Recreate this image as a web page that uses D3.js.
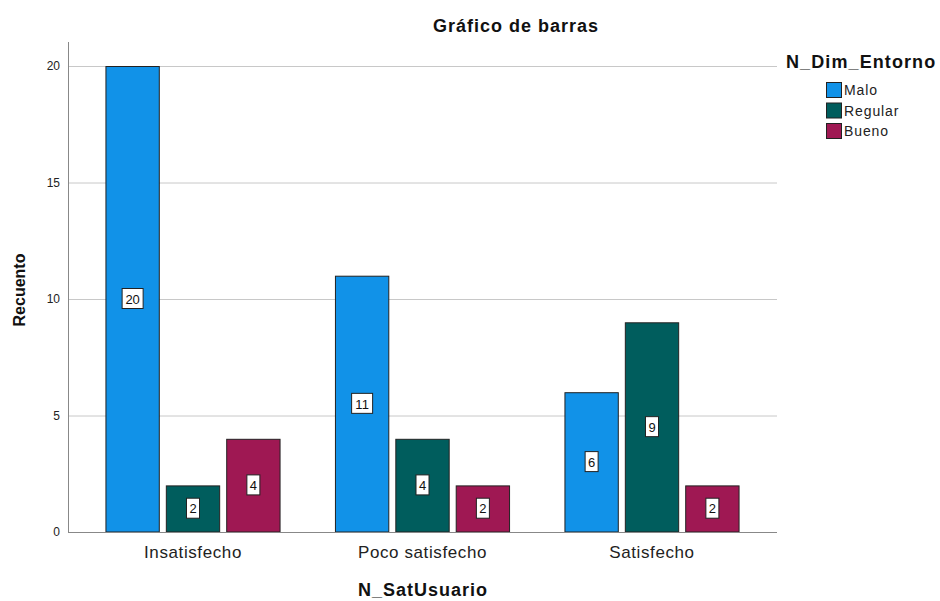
<!DOCTYPE html>
<html>
<head>
    <meta charset="utf-8">
    <title>Gráfico de barras</title>
    <script src="https://d3js.org/d3.v7.min.js"></script>
    <style>
        body { margin: 0; background: #fff; font-family: Arial, "Liberation Sans", sans-serif; }
        .grid line { stroke: #c8c8c8; }
        .bar { stroke: #222; stroke-width: 1; }
    </style>
</head>
<body>
<div id="chart"></div>
<script>
    // Data
    const categories = ['Insatisfecho', 'Poco satisfecho', 'Satisfecho'];
    const series = ['Malo', 'Regular', 'Bueno'];
    const malo = [20, 11, 6];
    const regular = [2, 4, 9];
    const bueno = [4, 2, 2];
    const yTicks = [0, 5, 10, 15, 20];
    const seriesColors = ['#1192e8', '#005d5d', '#9f1853'];

    const values = { Malo: malo, Regular: regular, Bueno: bueno };
    const rows = categories.map((c, i) => ({
        cat: c,
        items: series.map(s => ({ key: s, value: values[s][i] }))
    }));

    const width = 940, height = 601;
    const svg = d3.select('#chart').append('svg')
        .attr('width', width).attr('height', height);

    const plotLeft = 68, plotRight = 777;
    const y = d3.scaleLinear().domain([0, 20]).range([532, 66]);
    const x0 = d3.scaleBand().domain(categories).range([78.25, 766.75]).paddingInner(0.237).paddingOuter(0.1185);
    const x1 = d3.scaleBand().domain(series).range([0, x0.bandwidth()]).paddingInner(0.1);
    const color = d3.scaleOrdinal().domain(series).range(seriesColors);

    // Gridlines
    svg.append('g').attr('class', 'grid')
        .selectAll('line')
        .data(yTicks.filter(d => d > 0))
        .enter().append('line')
        .attr('x1', plotLeft).attr('x2', plotRight)
        .attr('y1', d => y(d) + 0.5).attr('y2', d => y(d) + 0.5);

    // Bars
    const groups = svg.append('g')
        .selectAll('g')
        .data(rows)
        .enter().append('g')
        .attr('transform', d => `translate(${x0(d.cat)},0)`);

    groups.selectAll('rect')
        .data(d => d.items)
        .enter().append('rect')
        .attr('class', 'bar')
        .attr('x', d => x1(d.key) + 0.5)
        .attr('y', d => y(d.value) + 0.5)
        .attr('width', x1.bandwidth() - 1)
        .attr('height', d => y(0) - y(d.value) - 0.5)
        .attr('fill', d => color(d.key));

    // Value labels
    const lab = groups.selectAll('g.lab')
        .data(d => d.items)
        .enter().append('g')
        .attr('class', 'lab')
        .attr('transform', d => `translate(${x1(d.key) + x1.bandwidth() / 2},${y(d.value / 2)})`);

    lab.append('rect')
        .attr('x', d => d.value >= 10 ? -10.5 : -6.5)
        .attr('y', -10.5)
        .attr('width', d => d.value >= 10 ? 21 : 13)
        .attr('height', 20)
        .attr('fill', '#fff')
        .attr('stroke', '#222');

    lab.append('text')
        .attr('text-anchor', 'middle')
        .attr('dy', '0.36em')
        .attr('font-size', 13)
        .attr('fill', '#111')
        .text(d => d.value);

    // Axes
    svg.append('line')
        .attr('x1', plotLeft + 0.5).attr('x2', plotLeft + 0.5)
        .attr('y1', 42).attr('y2', 532)
        .attr('stroke', '#888');
    svg.append('line')
        .attr('x1', plotLeft).attr('x2', plotRight)
        .attr('y1', 532.5).attr('y2', 532.5)
        .attr('stroke', '#888');

    svg.append('g')
        .selectAll('text')
        .data(yTicks)
        .enter().append('text')
        .attr('x', 60)
        .attr('y', d => y(d))
        .attr('dy', '0.36em')
        .attr('text-anchor', 'end')
        .attr('font-size', 12)
        .attr('fill', '#222')
        .text(d => d);

    svg.append('g')
        .selectAll('text')
        .data(categories)
        .enter().append('text')
        .attr('x', d => x0(d) + x0.bandwidth() / 2)
        .attr('y', 558)
        .attr('text-anchor', 'middle')
        .attr('font-size', 17)
        .attr('letter-spacing', 0.6)
        .attr('fill', '#222')
        .text(d => d);

    // Titles
    svg.append('text')
        .attr('x', 516).attr('y', 32)
        .attr('text-anchor', 'middle')
        .attr('font-size', 18).attr('font-weight', 'bold')
        .attr('letter-spacing', 1)
        .attr('fill', '#111')
        .text('Gráfico de barras');

    svg.append('text')
        .attr('x', 423).attr('y', 596)
        .attr('text-anchor', 'middle')
        .attr('font-size', 18).attr('font-weight', 'bold')
        .attr('letter-spacing', 1)
        .attr('fill', '#111')
        .text('N_SatUsuario');

    svg.append('text')
        .attr('transform', 'translate(25,290) rotate(-90)')
        .attr('text-anchor', 'middle')
        .attr('font-size', 16).attr('font-weight', 'bold')
        .attr('fill', '#111')
        .text('Recuento');

    // Legend
    svg.append('text')
        .attr('x', 786).attr('y', 68)
        .attr('font-size', 18).attr('font-weight', 'bold')
        .attr('letter-spacing', 1.1)
        .attr('fill', '#111')
        .text('N_Dim_Entorno');

    const leg = svg.append('g')
        .selectAll('g')
        .data(series)
        .enter().append('g')
        .attr('transform', (d, i) => `translate(826,${82 + i * 20.5})`);

    leg.append('rect')
        .attr('x', 0.5).attr('y', 0.5)
        .attr('width', 15).attr('height', 15)
        .attr('fill', d => color(d))
        .attr('stroke', '#222');

    leg.append('text')
        .attr('x', 18).attr('y', 8)
        .attr('dy', '0.36em')
        .attr('font-size', 14)
        .attr('letter-spacing', 0.9)
        .attr('fill', '#222')
        .text(d => d);
</script>
</body>
</html>
